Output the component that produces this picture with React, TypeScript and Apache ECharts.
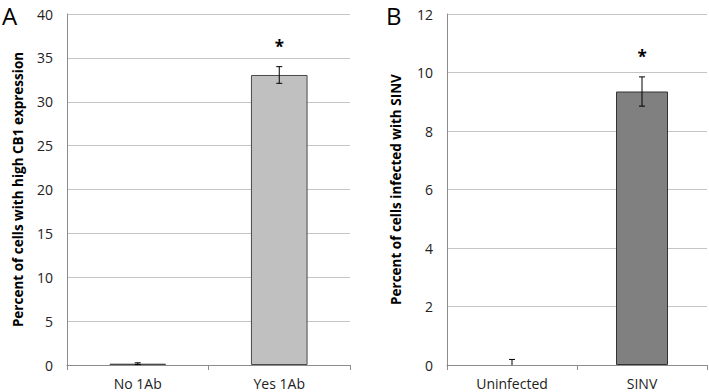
import React, { useEffect, useRef } from "react";
import * as echarts from "echarts";

const catsA = ["No 1Ab", "Yes 1Ab"];
const valsA = [0.15, 33.05];
const errA = [0.1, 0.95];
const sigA = [false, true];

const catsB = ["Uninfected", "SINV"];
const valsB = [0, 9.35];
const errB = [0.19, 0.5];
const sigB = [false, true];

const FONT = "Open Sans";

function errData(vals: number[], errs: number[], sig: boolean[]) {
  return vals.map((v, i) => [i, Math.max(0, v - errs[i]), v + errs[i], sig[i] ? 1 : 0]);
}

const barData = (vals: number[]) => vals.map((v) => (v > 0 ? v : "-"));

const renderErr = (params: any, api: any) => {
  const i = api.value(0);
  const lo = api.coord([i, api.value(1)]);
  const hi = api.coord([i, api.value(2)]);
  const x = lo[0];
  const cap = 3;
  const st = { stroke: "#000", lineWidth: 1 };
  const children: any[] = [
    { type: "line", shape: { x1: x, y1: lo[1], x2: x, y2: hi[1] }, style: st },
    { type: "line", shape: { x1: x - cap, y1: hi[1], x2: x + cap, y2: hi[1] }, style: st },
  ];
  if (api.value(1) > 0) {
    children.push({ type: "line", shape: { x1: x - cap, y1: lo[1], x2: x + cap, y2: lo[1] }, style: st });
  }
  if (api.value(3)) {
    children.push({
      type: "text",
      x: x,
      y: hi[1] - 20,
      style: { text: "*", font: `bold 17px '${FONT}'`, fill: "#000", align: "center", verticalAlign: "middle" },
    });
  }
  return { type: "group", children };
};

export default function App() {
  const ref = useRef<HTMLDivElement>(null);
  useEffect(() => {
    document.body.style.margin = "0";
    const chart = echarts.init(ref.current!, null, { renderer: "svg" });
    const axisLabel = { fontFamily: FONT, fontSize: 14, color: "#222" };
    const xAxisCommon = (idx: number, data: string[]) => ({
      type: "category",
      gridIndex: idx,
      data,
      axisLine: { lineStyle: { color: "#8c8c8c" } },
      axisTick: { show: true, length: 5, lineStyle: { color: "#8c8c8c" } },
      axisLabel: { ...axisLabel, margin: 11 },
    });
    const yAxisCommon = (idx: number, max: number, interval: number, name: string, gap: number) => ({
      type: "value",
      gridIndex: idx,
      min: 0,
      max,
      interval,
      name,
      nameLocation: "middle",
      nameGap: gap,
      nameTextStyle: { fontFamily: FONT, fontSize: 13.5, fontWeight: "bold", color: "#000" },
      axisLine: { show: true, lineStyle: { color: "#8c8c8c" } },
      axisTick: { show: false },
      axisLabel: { ...axisLabel, margin: 14 },
      splitLine: { lineStyle: { color: "#c4c4c4" } },
    });
    chart.setOption({
      animation: false,
      textStyle: { fontFamily: FONT },
      grid: [
        { left: 67, top: 14, width: 283, height: 351 },
        { left: 447, top: 14, width: 260, height: 351 },
      ],
      xAxis: [xAxisCommon(0, catsA), xAxisCommon(1, catsB)],
      yAxis: [
        yAxisCommon(0, 40, 5, "Percent of cells with high CB1 expression", 42),
        yAxisCommon(1, 12, 2, "Percent of cells infected with SINV", 44),
      ],
      graphic: [
        { type: "text", left: 2, top: 3, style: { text: "A", font: `24px '${FONT}'`, fill: "#000" } },
        { type: "text", left: 386, top: 3, style: { text: "B", font: `24px '${FONT}'`, fill: "#000" } },
      ],
      series: [
        {
          type: "bar",
          xAxisIndex: 0,
          yAxisIndex: 0,
          data: barData(valsA),
          barWidth: "40%",
          itemStyle: { color: "#c0c0c0", borderColor: "#4a4a4a", borderWidth: 1 },
        },
        {
          type: "bar",
          xAxisIndex: 1,
          yAxisIndex: 1,
          data: barData(valsB),
          barWidth: "40%",
          itemStyle: { color: "#808080", borderColor: "#333", borderWidth: 1 },
        },
        {
          type: "custom",
          xAxisIndex: 0,
          yAxisIndex: 0,
          data: errData(valsA, errA, sigA),
          encode: { x: 0, y: [1, 2] },
          renderItem: renderErr,
          clip: false,
          z: 5,
        },
        {
          type: "custom",
          xAxisIndex: 1,
          yAxisIndex: 1,
          data: errData(valsB, errB, sigB),
          encode: { x: 0, y: [1, 2] },
          renderItem: renderErr,
          clip: false,
          z: 5,
        },
      ],
    });
    return () => chart.dispose();
  }, []);
  return <div ref={ref} style={{ width: 709, height: 392 }} />;
}
